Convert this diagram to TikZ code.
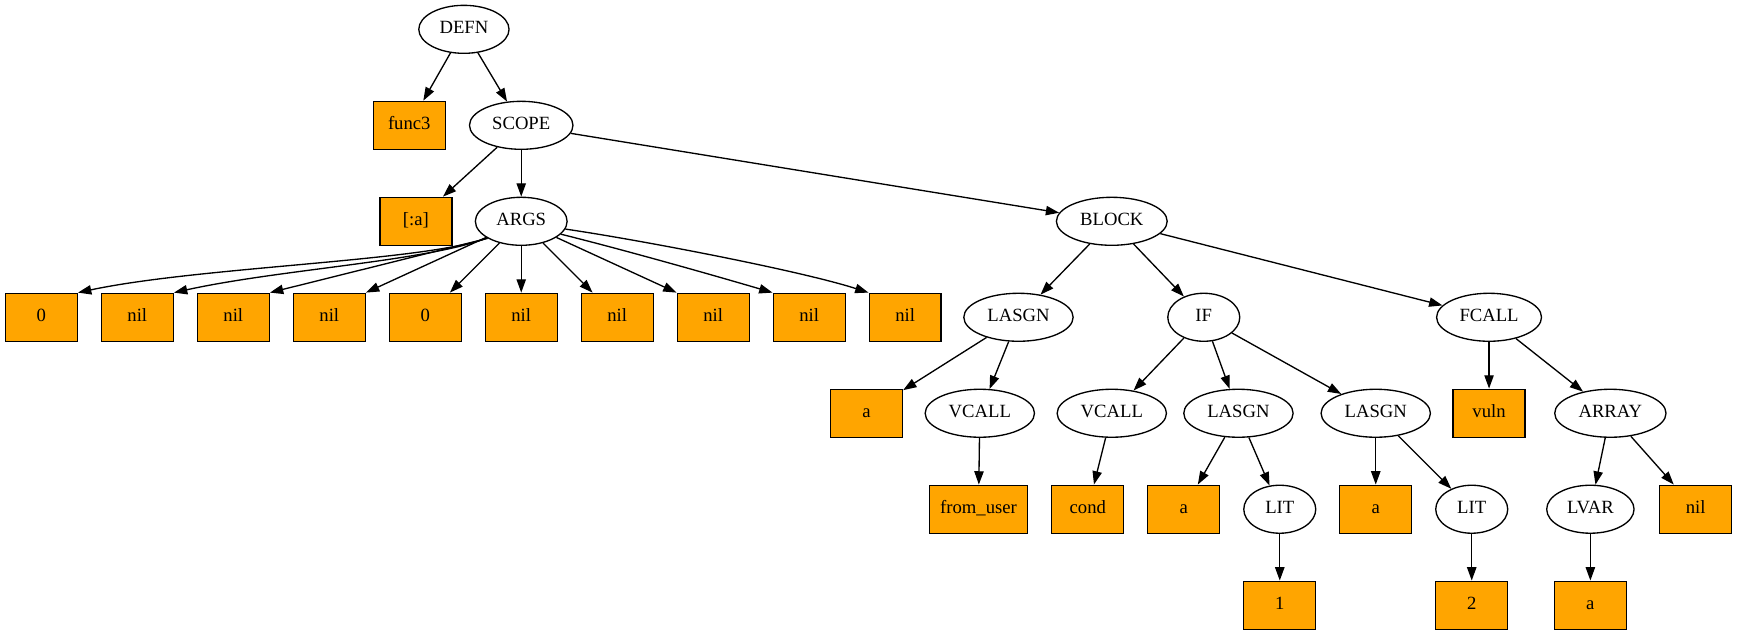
\documentclass[tikz,border=0pt]{standalone}
\usepackage{fontspec}
\setmainfont{Liberation Serif}
\usetikzlibrary{shapes.geometric,arrows.meta}
\definecolor{leaffill}{HTML}{FFA500}
\tikzset{
  base/.style={draw=black, line width=1pt, font=\fontsize{14pt}{16pt}\selectfont,
               text height=9.5pt, text depth=2.5pt, inner ysep=0pt, minimum height=36pt},
  ell/.style={base, ellipse, inner xsep=5.66pt, minimum width=54pt},
  leaf/.style={base, rectangle, fill=leaffill, inner xsep=8pt, minimum width=54pt},
  edge/.style={line width=1pt, -{Triangle[length=10pt,width=7pt]}}
}
\begin{document}
\begin{tikzpicture}[x=1pt,y=1pt]
\useasboundingbox (0,0) rectangle (1303,-476);

% rank 0
\node[ell] (defn) at (348,-22) {DEFN};
% rank 1
\node[leaf] (func3) at (307,-94) {func3};
\node[ell] (scope) at (391,-94) {SCOPE};
% rank 2
\node[leaf] (syma) at (312,-166) {[:a]};
\node[ell] (args) at (391,-166) {ARGS};
\node[ell] (block) at (834,-166) {BLOCK};
% rank 3
\foreach \i/\t in {0/0,1/nil,2/nil,3/nil,4/0,5/nil,6/nil,7/nil,8/nil,9/nil}
  \node[leaf] (b\i) at ({31+72*\i},-238) {\t};
\node[ell] (lasgnA) at (764,-238) {LASGN};
\node[ell] (ifn) at (903,-238) {IF};
\node[ell] (fcall) at (1117,-238) {FCALL};
% rank 4
\node[leaf] (aA) at (650,-310) {a};
\node[ell] (vcallA) at (735,-310) {VCALL};
\node[ell] (vcallB) at (834,-310) {VCALL};
\node[ell] (lasgnB) at (929,-310) {LASGN};
\node[ell] (lasgnC) at (1032,-310) {LASGN};
\node[leaf] (vuln) at (1117,-310) {vuln};
\node[ell] (array) at (1208,-310) {ARRAY};
% rank 5
\node[leaf] (fromuser) at (734,-382) {from\_user};
\node[leaf] (cond) at (816,-382) {cond};
\node[leaf] (aB) at (888,-382) {a};
\node[ell] (litA) at (960,-382) {LIT};
\node[leaf] (aC) at (1032,-382) {a};
\node[ell] (litB) at (1104,-382) {LIT};
\node[ell] (lvar) at (1193,-382) {LVAR};
\node[leaf] (nilR) at (1272,-382) {nil};
% rank 6
\node[leaf] (one) at (960,-454) {1};
\node[leaf] (two) at (1104,-454) {2};
\node[leaf] (aD) at (1193,-454) {a};

% edges
\draw[edge] (defn) -- (func3);
\draw[edge] (defn) -- (scope);
\draw[edge] (scope) -- (syma);
\draw[edge] (scope) -- (args);
\draw[edge] (scope) -- (block);

\draw[edge] (args.206) .. controls (320,-196) and (150,-200) .. (b0.north east);
\draw[edge] (args.206) .. controls (320,-196) and (210,-202) .. (b1.north east);
\draw[edge] (args.207) -- (b2.north east);
\draw[edge] (args) -- (b3.north east);
\draw[edge] (args) -- (b4);
\draw[edge] (args) -- (b5);
\draw[edge] (args) -- (b6);
\draw[edge] (args) -- (b7.north west);
\draw[edge] (args.-18) .. controls (470,-188) and (530,-205) .. (b8.north west);
\draw[edge] (args.-10) .. controls (480,-180) and (600,-203) .. (b9.north west);

\draw[edge] (block) -- (lasgnA);
\draw[edge] (block) -- (ifn);
\draw[edge] (block) -- (fcall);

\draw[edge] (lasgnA) -- (aA);
\draw[edge] (lasgnA) -- (vcallA);
\draw[edge] (vcallA) -- (fromuser);

\draw[edge] (ifn) -- (vcallB);
\draw[edge] (ifn) -- (lasgnB);
\draw[edge] (ifn) -- (lasgnC);
\draw[edge] (vcallB) -- (cond);
\draw[edge] (lasgnB) -- (aB);
\draw[edge] (lasgnB) -- (litA);
\draw[edge] (litA) -- (one);
\draw[edge] (lasgnC) -- (aC);
\draw[edge] (lasgnC) -- (litB);
\draw[edge] (litB) -- (two);

\draw[edge] (fcall) -- (vuln);
\draw[edge] (fcall) -- (array);
\draw[edge] (array) -- (lvar);
\draw[edge] (array) -- (nilR);
\draw[edge] (lvar) -- (aD);
\end{tikzpicture}
\end{document}
